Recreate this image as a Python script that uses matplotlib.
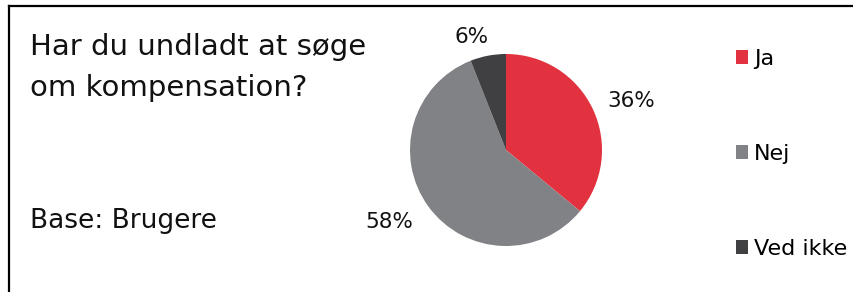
import matplotlib
matplotlib.use("Agg")
import matplotlib.pyplot as plt
from matplotlib.lines import Line2D
from matplotlib.patches import Patch

plt.rcParams['font.family'] = ['DejaVu Sans']

# data
categories = ["Ja", "Nej", "Ved ikke"]
shares = [36, 58, 6]
colors = ["#E3323F", "#818286", "#404043"]
title_lines = ["Har du undladt at søge", "om kompensation?"]
base_text = "Base: Brugere"

W, H = 854, 292
fig = plt.figure(figsize=(W / 100, H / 100), dpi=100)
fig.patch.set_facecolor("white")

# pie axes: centre (506,150) px, radius 96 px
cx, cy, r = 506, 150, 96
span = 3 * r
ax = fig.add_axes([(cx - span / 2) / W, (H - cy - span / 2) / H, span / W, span / H])
wedges, texts = ax.pie(shares, colors=colors, startangle=90, counterclock=False,
                       radius=1, wedgeprops=dict(linewidth=0))
ax.set_xlim(-1.5, 1.5)
ax.set_ylim(-1.5, 1.5)
ax.set_aspect("equal")
ax.axis("off")

# percentage labels (best-fit style positions, in pie radius units)
label_pos = [(1.30, 0.51), (-1.22, -0.75), (-0.36, 1.18)]
for val, (lx, ly) in zip(shares, label_pos):
    ax.text(lx, ly, f"{val}%", ha="center", va="center", fontsize=15.5, color="#111111")

# title and base (baselines in px from top)
for line, yb in zip(title_lines, [55, 96]):
    fig.text(30 / W, 1 - yb / H, line, ha="left", va="baseline", fontsize=21, color="#111111")
fig.text(30 / W, 1 - 228 / H, base_text, ha="left", va="baseline", fontsize=19, color="#111111")

# legend
handles = [Patch(facecolor=c, edgecolor="none") for c in colors]
leg = fig.legend(handles, categories, loc="upper left", bbox_to_anchor=(736 / W, 1 - 49 / H),
                 frameon=False, fontsize=16, handlelength=0.55, handleheight=0.55,
                 handletextpad=0.25, labelspacing=3.37, borderaxespad=0, borderpad=0)

# frame lines on top and left
fig.add_artist(Line2D([8.5 / W, 1], [1 - 5.5 / H, 1 - 5.5 / H], transform=fig.transFigure,
                      color="black", linewidth=1.6))
fig.add_artist(Line2D([8.5 / W, 8.5 / W], [0, 1 - 5.5 / H], transform=fig.transFigure,
                      color="black", linewidth=1.6))

fig.savefig("out.png", dpi=100)
